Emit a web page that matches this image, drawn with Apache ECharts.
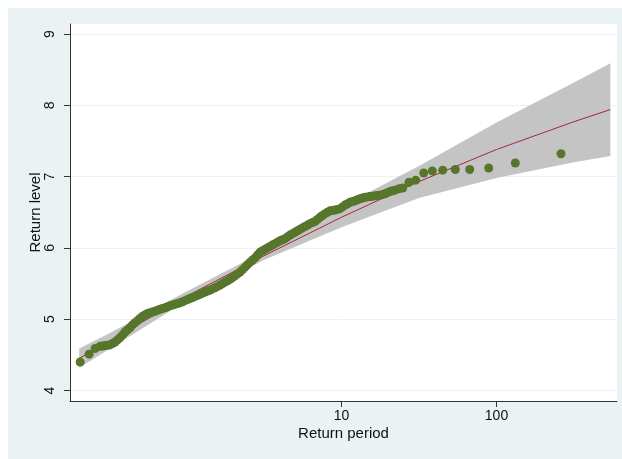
<!DOCTYPE html>
<html>
<head>
<meta charset="utf-8">
<script src="https://cdn.jsdelivr.net/npm/echarts@6/dist/echarts.min.js"></script>
<style>
  html, body { margin: 0; padding: 0; background: #ffffff; }
  #wrap { position: relative; width: 622px; height: 459px; }
  #bg { position: absolute; left: 8px; top: 8px; width: 614px; height: 451px; background: #EAF2F3; }
  #chart { position: absolute; left: 0; top: 0; width: 622px; height: 459px; }
</style>
</head>
<body>
<div id="wrap"><div id="bg"></div><div id="chart"></div></div>
<script>
// Observed return levels (empirical points)
const obsPeriod = [0.206, 0.235, 0.257, 0.277, 0.287, 0.298, 0.309, 0.321, 0.333, 0.346, 0.359, 0.372, 0.387, 0.401, 0.416, 0.432, 0.448, 0.465, 0.483, 0.501, 0.520, 0.540, 0.560, 0.581, 0.603, 0.626, 0.650, 0.675, 0.700, 0.727, 0.754, 0.783, 0.812, 0.843, 0.875, 0.908, 0.942, 0.978, 1.015, 1.053, 1.093, 1.135, 1.178, 1.222, 1.268, 1.316, 1.366, 1.418, 1.471, 1.527, 1.585, 1.645, 1.707, 1.772, 1.839, 1.908, 1.980, 2.056, 2.133, 2.214, 2.298, 2.385, 2.475, 2.569, 2.666, 2.766, 2.871, 2.980, 3.093, 3.210, 3.331, 3.457, 3.588, 3.724, 3.865, 4.011, 4.162, 4.320, 4.483, 4.653, 4.829, 5.012, 5.201, 5.399, 5.603, 5.814, 6.034, 6.263, 6.500, 6.745, 7.000, 7.266, 7.541, 7.824, 8.120, 8.429, 8.748, 9.081, 9.424, 9.779, 10.15, 10.53, 10.93, 11.35, 11.78, 12.22, 12.68, 13.16, 13.66, 14.18, 14.71, 15.27, 15.85, 16.45, 17.07, 17.72, 18.39, 19.08, 19.80, 20.56, 21.33, 22.14, 23.50, 24.82, 27.26, 30.11, 33.91, 38.53, 44.98, 54.23, 67.17, 89.07, 132.2, 260.7];
const obsLevel = [4.40, 4.51, 4.59, 4.62, 4.625, 4.63, 4.635, 4.64, 4.66, 4.68, 4.71, 4.74, 4.78, 4.82, 4.85, 4.88, 4.92, 4.95, 4.98, 5.01, 5.04, 5.06, 5.08, 5.09, 5.10, 5.11, 5.125, 5.14, 5.15, 5.16, 5.175, 5.19, 5.20, 5.21, 5.22, 5.23, 5.245, 5.26, 5.275, 5.29, 5.305, 5.32, 5.335, 5.35, 5.365, 5.38, 5.395, 5.41, 5.425, 5.44, 5.46, 5.48, 5.50, 5.52, 5.54, 5.56, 5.585, 5.61, 5.635, 5.66, 5.695, 5.73, 5.765, 5.80, 5.83, 5.86, 5.90, 5.94, 5.96, 5.98, 6.00, 6.02, 6.04, 6.06, 6.08, 6.10, 6.115, 6.13, 6.155, 6.18, 6.20, 6.22, 6.24, 6.26, 6.28, 6.30, 6.32, 6.34, 6.355, 6.37, 6.40, 6.43, 6.455, 6.48, 6.50, 6.52, 6.525, 6.53, 6.54, 6.55, 6.575, 6.60, 6.62, 6.64, 6.65, 6.66, 6.675, 6.69, 6.70, 6.71, 6.715, 6.72, 6.725, 6.73, 6.735, 6.74, 6.75, 6.76, 6.775, 6.79, 6.80, 6.81, 6.83, 6.84, 6.92, 6.95, 7.05, 7.08, 7.09, 7.10, 7.10, 7.12, 7.19, 7.32];

// Fitted return level curve and confidence band
const fitPeriod = [0.203, 0.316, 1, 3.16, 10, 31.6, 100, 316, 543];
const fitLevel  = [4.45, 4.69, 5.32, 5.89, 6.43, 6.93, 7.38, 7.77, 7.94];
const ciUpper   = [4.59, 4.80, 5.39, 5.95, 6.58, 7.15, 7.76, 8.32, 8.59];
const ciLower   = [4.32, 4.58, 5.26, 5.83, 6.29, 6.70, 6.98, 7.20, 7.29];

// Axis ticks
const yTicks = [4, 5, 6, 7, 8, 9];
const xTicks = [10, 100];

const chart = echarts.init(document.getElementById('chart'), null, { renderer: 'canvas' });

const font = '"Liberation Sans", Arial, Helvetica, sans-serif';

const option = {
  backgroundColor: 'transparent',
  animation: false,
  grid: {
    left: 70, right: 5, top: 24, bottom: 58,
    show: true, backgroundColor: '#ffffff', borderWidth: 0
  },
  xAxis: {
    type: 'log',
    logBase: 10,
    min: 0.1771,
    max: 599,
    name: 'Return period',
    nameLocation: 'middle',
    nameGap: 25,
    nameMoveOverlap: false,
    nameTextStyle: { fontFamily: font, fontSize: 15, color: '#111' },
    axisLine: { show: true, onZero: false, lineStyle: { color: '#333', width: 1 } },
    axisTick: { show: true, length: 6, customValues: xTicks, lineStyle: { color: '#333' } },
    axisLabel: { customValues: xTicks, fontFamily: font, fontSize: 14, color: '#111', margin: 8 },
    splitLine: { show: false },
    minorTick: { show: false }
  },
  yAxis: {
    type: 'value',
    min: 3.853,
    max: 9.14,
    name: 'Return level',
    nameLocation: 'middle',
    nameGap: 27,
    nameRotate: 90,
    nameMoveOverlap: false,
    nameTextStyle: { fontFamily: font, fontSize: 15, color: '#111' },
    axisLine: { show: true, onZero: false, lineStyle: { color: '#333', width: 1 } },
    axisTick: { show: true, length: 6, customValues: yTicks, lineStyle: { color: '#333' } },
    axisLabel: { customValues: yTicks, rotate: 90, fontFamily: font, fontSize: 14, color: '#111', margin: 13 },
    splitLine: { show: true, lineStyle: { color: '#EAF2F3', width: 1 } }
  },
  series: [
    {
      type: 'custom',
      silent: true,
      z: 1,
      clip: true,
      data: [[fitPeriod[0], ciLower[0]]],
      renderItem: function (params, api) {
        const pts = [];
        for (let i = 0; i < fitPeriod.length; i++) pts.push(api.coord([fitPeriod[i], ciUpper[i]]));
        for (let i = fitPeriod.length - 1; i >= 0; i--) pts.push(api.coord([fitPeriod[i], ciLower[i]]));
        return { type: 'polygon', shape: { points: pts }, style: { fill: '#c4c4c4' } };
      }
    },
    {
      type: 'line',
      z: 2,
      silent: true,
      symbol: 'none',
      smooth: false,
      data: fitPeriod.map((p, i) => [p, fitLevel[i]]),
      lineStyle: { color: '#a3293a', width: 1 }
    },
    {
      type: 'scatter',
      z: 3,
      silent: true,
      symbol: 'circle',
      symbolSize: 9,
      data: obsPeriod.map((p, i) => [p, obsLevel[i]]),
      itemStyle: { color: '#56762c', opacity: 1 }
    }
  ]
};

chart.setOption(option);
</script>
</body>
</html>
